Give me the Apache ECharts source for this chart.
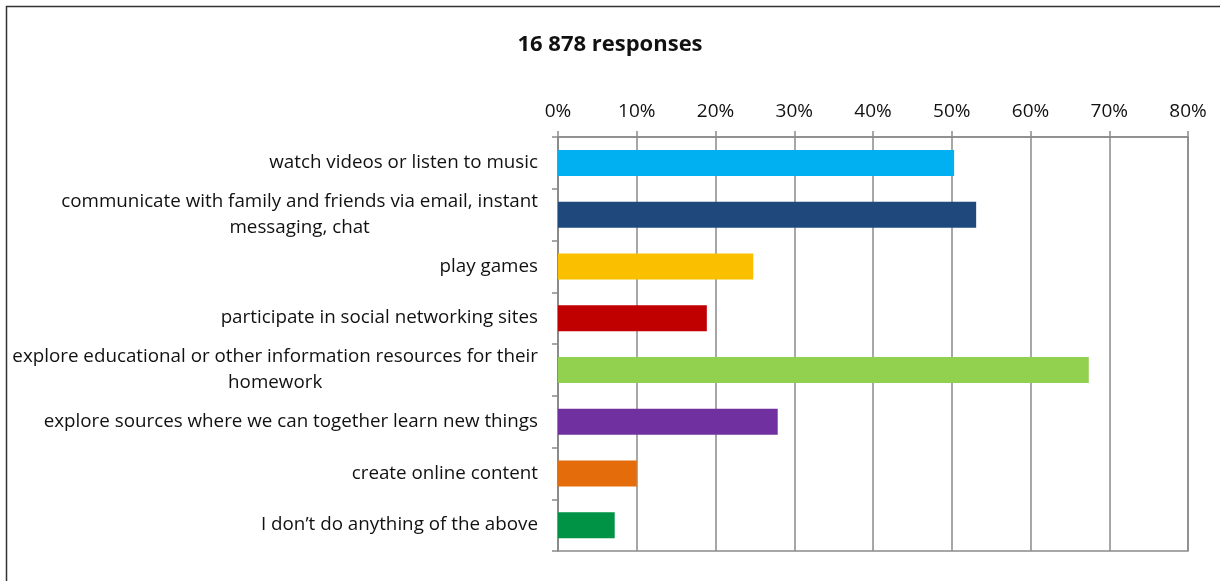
<!DOCTYPE html>
<html>
<head>
<meta charset="utf-8">
<script src="https://cdn.jsdelivr.net/npm/echarts@6/dist/echarts.min.js"></script>
<style>
  html, body { margin: 0; padding: 0; background: #fff; }
  #chart { width: 1220px; height: 581px; }
</style>
</head>
<body>
<div id="chart"></div>
<script>
// What parents do online together with their children
const titleText = '16 878 responses';
const categories = [
  'watch videos or listen to music',
  'communicate with family and friends via email, instant\nmessaging, chat',
  'play games',
  'participate in social networking sites',
  'explore educational or other information resources for their\nhomework',
  'explore sources where we can together learn new things',
  'create online content',
  'I don\u2019t do anything of the above'
];
const shares = [50.3, 53.1, 24.8, 18.9, 67.4, 27.9, 10.0, 7.2];
const barColors = ['#00B0F0', '#1F497D', '#FAC000', '#C00000', '#92D050', '#7030A0', '#E46C0A', '#009245'];
const axisMax = 80;
const axisStep = 10;

const font = 'Open Sans';
const chart = echarts.init(document.getElementById('chart'), null, { renderer: 'canvas' });

chart.setOption({
  animation: false,
  backgroundColor: '#fff',
  textStyle: { fontFamily: font },
  title: {
    text: titleText,
    left: 'center',
    top: 29,
    textStyle: { fontFamily: font, fontWeight: 'bold', fontSize: 22, color: '#111' }
  },
  graphic: [{
    type: 'rect',
    silent: true,
    shape: { x: 6.5, y: 6.5, width: 1400, height: 800 },
    style: { fill: 'none', stroke: '#333', lineWidth: 1.5 }
  }],
  grid: {
    left: 558, right: 32, top: 137, bottom: 30,
    show: true, borderColor: '#8a8a8a', borderWidth: 1.5, backgroundColor: 'transparent'
  },
  xAxis: {
    type: 'value',
    position: 'top',
    min: 0, max: axisMax, interval: axisStep,
    axisLine: { show: true, lineStyle: { color: '#8a8a8a', width: 1.5 } },
    axisTick: { show: true, inside: false, length: 6, lineStyle: { color: '#8a8a8a', width: 1.5 } },
    splitLine: { show: true, lineStyle: { color: '#8a8a8a', width: 1.5 } },
    axisLabel: {
      margin: 16,
      fontFamily: font, fontSize: 19, color: '#111',
      formatter: v => v + '%'
    }
  },
  yAxis: {
    type: 'category',
    inverse: true,
    data: categories,
    axisLine: { show: true, lineStyle: { color: '#8a8a8a', width: 1.5 } },
    axisTick: { show: true, inside: false, length: 6, alignWithLabel: false, lineStyle: { color: '#8a8a8a', width: 1.5 } },
    axisLabel: {
      margin: 20,
      fontFamily: font, fontSize: 18.8, color: '#111',
      lineHeight: 26,
      formatter: v => v.split('\n').map(s => '{c|' + s + '}').join('\n'),
      rich: { c: { align: 'center', fontFamily: font, fontSize: 18.8, color: '#111', lineHeight: 26 } }
    }
  },
  series: [{
    type: 'bar',
    barWidth: 26,
    data: shares.map((v, i) => ({ value: v, itemStyle: { color: barColors[i] } }))
  }]
});
</script>
</body>
</html>
